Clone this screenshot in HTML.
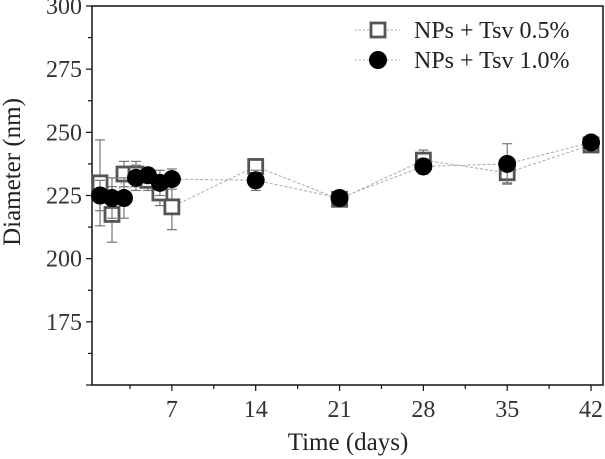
<!DOCTYPE html>
<html><head><meta charset="utf-8"><style>
html,body{margin:0;padding:0;background:#fff;width:605px;height:459px;overflow:hidden}
svg{display:block;font-family:"Liberation Serif",serif}
</style></head><body>
<svg id="chart" width="605" height="459"></svg>
<script>
const days = [1,2,3,4,5,6,7,14,21,28,35,42];
const seriesA = [230,217.5,233.5,233.5,231,226,220.5,236.5,223.5,239,234,245];
const errA = [17,11,5,5,4,5,9,3,3,4,4,2];
const seriesB = [225,224,224,232,233,230,231.5,231,224,236.5,237.5,246];
const errB = [6,8,8,5,3,5,4,4,3,3,8,2];
const xTicks = [7,14,21,28,35,42];
const yTicks = [175,200,225,250,275,300];
const NS='http://www.w3.org/2000/svg';
const svg=document.getElementById('chart');
const L=92,R=603,T=6,B=385;
const X0=0.33,X1=43.0,Y0=150,Y1=300;
const sx=v=>L+(v-X0)/(X1-X0)*(R-L);
const sy=v=>B-(v-Y0)/(Y1-Y0)*(B-T);
function mk(tag,attrs,parent){const e=document.createElementNS(NS,tag);for(const k in attrs)e.setAttribute(k,attrs[k]);(parent||svg).appendChild(e);return e;}
const frame=mk('rect',{x:L,y:T,width:R-L,height:B-T,fill:'none',stroke:'#111','stroke-width':1.5});


for(let v=Y0; v<=Y1; v+=12.5){
  const major = v%25===0;
  const t=mk('line',{x1:L-(major?6:4),x2:L,y1:sy(v),y2:sy(v),stroke:'#111','stroke-width':1.2});
  
  
}
yTicks.forEach(v=>{
  const t=mk('text',{x:L-10,y:sy(v)+8,'text-anchor':'end','font-size':24,fill:'#333'});
  t.textContent=v;
  
  
});
for(let v=3.5; v<=42; v+=3.5){
  const major = v%7===0;
  const t=mk('line',{x1:sx(v),x2:sx(v),y1:B,y2:B+(major?6:4),stroke:'#111','stroke-width':1.2});
  
  
}
xTicks.forEach(v=>{
  const t=mk('text',{x:sx(v),y:B+32,'text-anchor':'middle','font-size':24,fill:'#333'});
  t.textContent=v;
  
  
});
const xt=mk('text',{x:348,y:450,'text-anchor':'middle','font-size':25,fill:'#222'});
xt.textContent='Time (days)';


const yt=mk('text',{x:0,y:0,'text-anchor':'middle','font-size':25,fill:'#222',transform:'translate(20,172) rotate(-90)'});
yt.textContent='Diameter (nm)';


function series(vals,errs,kind){
  const pts=days.map((d,i)=>sx(d)+','+sy(vals[i])).join(' ');
  const ln=mk('polyline',{points:pts,fill:'none',stroke:'#aaa','stroke-width':1,'stroke-dasharray':'3,2'});
  
  
  days.forEach((d,i)=>{
    const x=sx(d),y1=sy(vals[i]+errs[i]),y2=sy(vals[i]-errs[i]);
    const g=mk('g',{stroke:'#777','stroke-width':1.2});
    
    
    mk('line',{x1:x,x2:x,y1:y1,y2:y2},g);
    mk('line',{x1:x-5,x2:x+5,y1:y1,y2:y1},g);
    mk('line',{x1:x-5,x2:x+5,y1:y2,y2:y2},g);
  });
  days.forEach((d,i)=>{
    let m;
    if(kind==='square') m=mk('rect',{x:sx(d)-7,y:sy(vals[i])-7,width:14,height:14,fill:'#fff',stroke:'#555','stroke-width':2.8});
    else m=mk('circle',{cx:sx(d),cy:sy(vals[i]),r:9,fill:'#000'});
    
    
  });
}
series(seriesA,errA,'square');
series(seriesB,errB,'circle');
const lg=mk('g',{});


mk('line',{x1:355,x2:400,y1:30,y2:30,stroke:'#aaa','stroke-dasharray':'2,2'},lg);
mk('rect',{x:371,y:23,width:14,height:14,fill:'#fff',stroke:'#555','stroke-width':2.8},lg);
const l1=mk('text',{x:414,y:38,'font-size':24,fill:'#222'},lg);l1.textContent='NPs + Tsv 0.5%';
mk('line',{x1:355,x2:400,y1:60,y2:60,stroke:'#aaa','stroke-dasharray':'2,2'},lg);
mk('circle',{cx:378,cy:60,r:9,fill:'#000'},lg);
const l2=mk('text',{x:414,y:68,'font-size':24,fill:'#222'},lg);l2.textContent='NPs + Tsv 1.0%';
</script>
</body></html>
